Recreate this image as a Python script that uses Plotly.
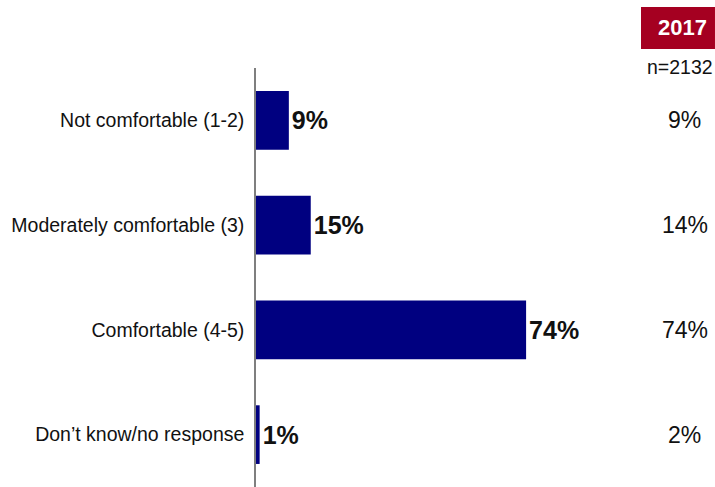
import plotly.graph_objects as go

# Survey responses: comfort level
categories = [
    "Not comfortable (1-2)",
    "Moderately comfortable (3)",
    "Comfortable (4-5)",
    "Don\u2019t know/no response",
]
values_current = [9, 15, 74, 1]
values_2017 = [9, 14, 74, 2]
year_label = "2017"
sample_label = "n=2132"

SANS = "Liberation Sans, Arial, sans-serif"

fig = go.Figure(
    go.Bar(
        x=values_current,
        y=categories,
        orientation="h",
        marker=dict(color="#000080", line=dict(width=0)),
        text=[f"<b>{v}%</b>" for v in values_current],
        textposition="outside",
        textfont=dict(family=SANS, size=25, color="#111111"),
        cliponaxis=False,
        width=0.56,
    )
)

# Comparison column for the previous wave
for cat, v in zip(categories, values_2017):
    fig.add_annotation(
        x=1.175, xref="paper", y=cat, yref="y",
        text=f"{v}%", showarrow=False,
        font=dict(family=SANS, size=23, color="#111111"),
        xanchor="center", yanchor="middle",
    )

fig.add_shape(
    type="rect", xref="paper", yref="paper",
    x0=1.0548, x1=1.2575, y0=1.0453, y1=1.1456,
    fillcolor="#A50021", line=dict(width=0), layer="below",
)
fig.add_annotation(
    x=1.1685, xref="paper", y=1.0955, yref="paper",
    text=f"<b>{year_label}</b>", showarrow=False,
    font=dict(family=SANS, size=22, color="white"),
    xanchor="center", yanchor="middle",
)
fig.add_annotation(
    x=1.163, xref="paper", y=1.0024, yref="paper",
    text=sample_label, showarrow=False,
    font=dict(family=SANS, size=19.5, color="#111111"),
    xanchor="center", yanchor="middle",
)

fig.update_layout(
    width=715, height=487,
    margin=dict(l=256, r=94, t=68, b=0),
    paper_bgcolor="white", plot_bgcolor="white",
    showlegend=False,
    xaxis=dict(range=[0, 100], visible=False, automargin=False),
    yaxis=dict(
        categoryorder="array", categoryarray=categories, autorange="reversed",
        automargin=False,
        showline=True, linecolor="#7f7f7f", linewidth=1.5,
        showgrid=False, zeroline=False, ticks="",
        ticklabelstandoff=6,
        tickfont=dict(family=SANS, size=19.5, color="#111111"),
    ),
)

fig.write_html("out.html")
